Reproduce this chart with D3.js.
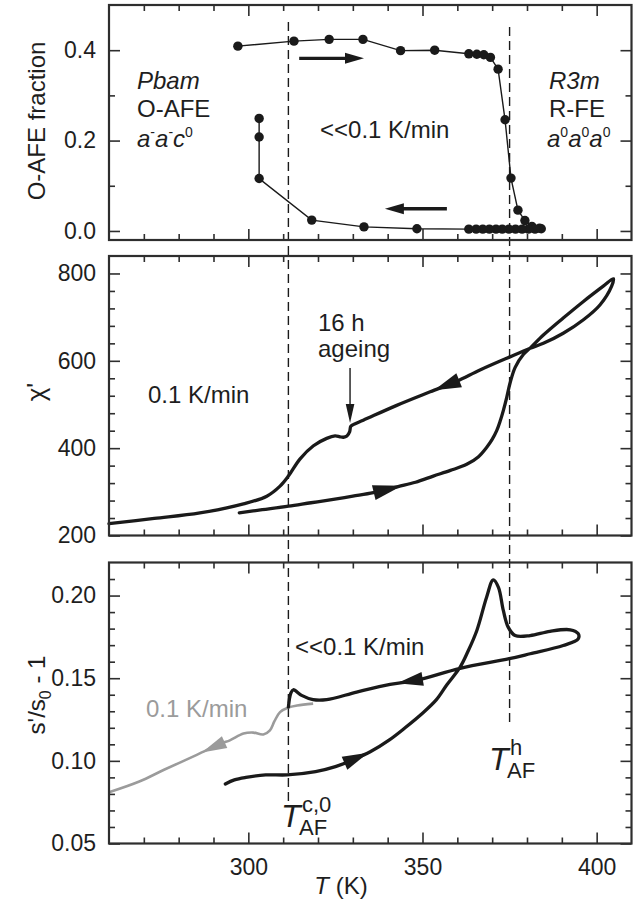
<!DOCTYPE html>
<html><head><meta charset="utf-8">
<script src="https://cdn.jsdelivr.net/npm/d3@7"></script>
<style>
body{margin:0;background:#fff;}
svg text{font-family:Arial,"Liberation Sans",Helvetica,sans-serif;fill:#1e1e1e;}
</style></head><body>
<svg id="fig" width="642" height="900"></svg>
<script>
// ---- shared temperature axis ----
const tempDomain = [260, 410];
const tempMajor = [300, 350, 400];
const tempMinor = [270, 280, 290, 310, 320, 330, 340, 360, 370, 380, 390];
const transitionTemps = [311.5, 375];   // T_AF^{c,0}, T_AF^h

// ---- panel 1: O-AFE phase fraction (heating then cooling) ----
const fracT = [297, 313.1, 323.2, 332.9, 343.7, 353.5, 363.3, 365.6, 367.6, 369.5, 371.7, 373.7, 375.4, 377.4, 379.4, 381.4, 383.6,
               384.1, 382.3, 380.4, 378.6, 376.7, 374.8, 372.9, 371.1, 369.2, 367.3, 365.4, 363.3, 348.4, 333.2, 318.2, 303.1, 303.1, 303.1];
const fracV = [0.409, 0.420, 0.424, 0.424, 0.399, 0.400, 0.392, 0.391, 0.390, 0.384, 0.358, 0.246, 0.117, 0.046, 0.023, 0.010, 0.006,
               0.005, 0.004, 0.004, 0.004, 0.004, 0.004, 0.004, 0.004, 0.004, 0.004, 0.004, 0.004, 0.005, 0.009, 0.024, 0.116, 0.208, 0.249];
const fracTicksMajor = [0.0, 0.2, 0.4];
const fracTicksMinor = [0.1, 0.3];

// ---- panel 2: permittivity chi' at 0.1 K/min ----
const chiHeatT = [297.4, 304, 311.5, 318, 324.4, 330, 335.9, 343, 348, 353.1, 358, 362.7, 366, 368.4, 370, 371.3, 372.3, 373.2, 374.2, 375.1, 376.6, 379, 380.9, 384.7, 390.4, 396.2, 401.9, 404.8];
const chiHeatV = [252, 259, 267, 275, 282.6, 290, 298, 312, 322, 336, 349, 363, 380, 401.6, 420, 440, 462, 486, 517, 548, 585, 615, 629, 659, 698, 736, 771, 788];
const chiCoolT = [404.3, 401, 396.2, 390.4, 384.7, 380.9, 375.1, 366.5, 359.8, 352.2, 342.6, 333, 330.1, 329.4, 329.1, 328.3, 327.3, 326.3, 324.9, 322.5, 318.7, 314.8, 311.5, 309.1, 305.3, 298.6, 286.1, 273, 260];
const chiCoolV = [771, 728.5, 694, 663, 640, 628.6, 609, 579, 553, 529, 498, 464, 454, 450, 438, 428, 425, 426, 428, 422.4, 405.5, 375, 336, 313, 290, 272.4, 251.7, 239, 227];
const chiTicksMajor = [200, 400, 600, 800];
const chiTicksMinor = [240, 280, 320, 360, 440, 480, 520, 560, 640, 680, 720, 760];

// ---- panel 3: sound velocity ratio s'/s0 - 1 ----
const sHeatT = [293.4, 296, 299.3, 305, 311.1, 319.3, 325, 329.9, 335, 340.5, 345, 350, 354, 357, 360.8, 363, 365.6, 368.4, 370.3, 371.8, 373.2, 374.6, 376.6, 380.9, 386.6, 392.4, 394.7, 394.7];
const sHeatV = [0.086, 0.0885, 0.090, 0.0915, 0.0915, 0.0935, 0.0965, 0.1006, 0.1055, 0.1127, 0.120, 0.1288, 0.137, 0.146, 0.1567, 0.166, 0.1789, 0.199, 0.2095, 0.205, 0.191, 0.1809, 0.1758, 0.1758, 0.1784, 0.1793, 0.1769, 0.1738];
const sCoolT = [390.4, 380.9, 374.9, 360.8, 348.3, 340.7, 331.1, 322.5, 318.6, 315.3, 312.9, 312.2, 311.5];
const sCoolV = [0.1698, 0.1648, 0.1618, 0.156, 0.1487, 0.1463, 0.1416, 0.137, 0.137, 0.1396, 0.143, 0.141, 0.1325];
const sFastT = [318.6, 314, 311.5, 309.1, 307.5, 306.2, 304.3, 301.4, 298.6, 294.7, 292.3, 285.2, 275.8, 268.7, 260];
const sFastV = [0.1346, 0.1335, 0.1323, 0.1295, 0.124, 0.1185, 0.116, 0.1171, 0.1165, 0.1124, 0.1107, 0.1036, 0.0946, 0.0875, 0.081];
const sTicksMajor = [0.05, 0.10, 0.15, 0.20];
const sTicksMinor = [0.06, 0.07, 0.08, 0.09, 0.11, 0.12, 0.13, 0.14, 0.16, 0.17, 0.18, 0.19, 0.21];

const INK = "#1a1a1a", GREY = "#9b9b9b", FRAME = "#2e2e2e";
const svg = d3.select("#fig");

const x = d3.scaleLinear().domain(tempDomain).range([109, 631.5]);
const yFrac = d3.scaleLinear().domain([-0.02, 0.5]).range([240, 5]);
const yChi = d3.scaleLinear().domain([200, 840]).range([535.5, 256]);
const yS = d3.scaleLinear().domain([0.05, 0.22]).range([843.5, 562.5]);

const zip = (a, b) => a.map((t, i) => [t, b[i]]);

// vertical dashed markers of the transition temperatures
const dashEnds = [[22, 803], [27, 722]];
svg.append("g").selectAll("line").data(transitionTemps).join("line")
  .attr("x1", d => x(d)).attr("x2", d => x(d))
  .attr("y1", (d, i) => dashEnds[i][0]).attr("y2", (d, i) => dashEnds[i][1])
  .attr("stroke", INK).attr("stroke-width", 1.4).attr("stroke-dasharray", "9,5");

function frameAndTicks(y, major, minor, fmt, xLabels) {
  const g = svg.append("g");
  const [x0, x1] = x.range();
  const [yb, yt] = y.range();
  const style = sel => {
    sel.select(".domain").remove();
    sel.selectAll(".tick line").attr("stroke", FRAME).attr("stroke-width", 1.6);
    sel.selectAll(".tick text").attr("font-size", 23).attr("font-family", null).attr("fill", "#1e1e1e");
    sel.attr("font-family", null).attr("font-size", null);
  };
  // x ticks, bottom and top, pointing inward
  g.append("g").attr("transform", `translate(0,${yb})`)
    .call(d3.axisBottom(x).tickValues(tempMajor).tickSize(-11).tickPadding(15)
      .tickFormat(xLabels ? d3.format("d") : () => "")).call(style);
  g.append("g").attr("transform", `translate(0,${yb})`)
    .call(d3.axisBottom(x).tickValues(tempMinor).tickSize(-6).tickFormat(() => "")).call(style);
  g.append("g").attr("transform", `translate(0,${yt})`)
    .call(d3.axisTop(x).tickValues(tempMajor).tickSize(-11).tickFormat(() => "")).call(style);
  g.append("g").attr("transform", `translate(0,${yt})`)
    .call(d3.axisTop(x).tickValues(tempMinor).tickSize(-6).tickFormat(() => "")).call(style);
  // y ticks, left and right
  g.append("g").attr("transform", `translate(${x0},0)`)
    .call(d3.axisLeft(y).tickValues(major).tickSize(-11).tickPadding(13).tickFormat(fmt)).call(style);
  g.append("g").attr("transform", `translate(${x0},0)`)
    .call(d3.axisLeft(y).tickValues(minor).tickSize(-6).tickFormat(() => "")).call(style);
  g.append("g").attr("transform", `translate(${x1},0)`)
    .call(d3.axisRight(y).tickValues(major).tickSize(-11).tickFormat(() => "")).call(style);
  g.append("g").attr("transform", `translate(${x1},0)`)
    .call(d3.axisRight(y).tickValues(minor).tickSize(-6).tickFormat(() => "")).call(style);
  g.append("rect").attr("x", x0).attr("y", yt).attr("width", x1 - x0).attr("height", yb - yt)
    .attr("fill", "none").attr("stroke", FRAME).attr("stroke-width", 2.2);
}

function head(g, tip, ang, L, W, color) {
  const c = Math.cos(ang), s = Math.sin(ang);
  const bx = tip[0] - L * c, by = tip[1] - L * s;
  g.append("path")
    .attr("d", `M${tip[0]},${tip[1]}L${bx - W * s},${by + W * c}L${bx + W * s},${by - W * c}Z`)
    .attr("fill", color);
}

// arrowhead centred on the n-th crossing of temperature t along a drawn path
function arrowOnPath(g, node, t, n, color, L = 27, W = 7) {
  const tx = x(t), total = node.getTotalLength();
  let prev = node.getPointAtLength(0), count = 0;
  for (let l = 0.5; l <= total; l += 0.5) {
    const p = node.getPointAtLength(l);
    if ((prev.x - tx) * (p.x - tx) <= 0 && prev.x !== p.x) {
      count++;
      if (count === n) {
        const a = node.getPointAtLength(Math.min(total, l + L / 2));
        const b = node.getPointAtLength(Math.max(0, l - L / 2));
        head(g, [a.x, a.y], Math.atan2(a.y - b.y, a.x - b.x), L, W, color);
        return;
      }
    }
    prev = p;
  }
}

// text made of base letters, each followed by a raised index
function withSuperscripts(sel, pairs, italicBase, italicSup) {
  pairs.forEach(([b, s], i) => {
    sel.append("tspan").attr("dy", i === 0 ? 0 : 10).attr("font-style", italicBase ? "italic" : "normal").text(b);
    sel.append("tspan").attr("dy", -10).attr("font-size", 14).attr("font-style", italicSup ? "italic" : "normal").text(s);
  });
}

const smooth = d3.curveCatmullRom.alpha(0.5);

// ================= panel 1 =================
{
  const g = svg.append("g");
  const pts = zip(fracT, fracV);
  g.append("path").attr("d", d3.line().x(d => x(d[0])).y(d => yFrac(d[1]))(pts))
    .attr("fill", "none").attr("stroke", INK).attr("stroke-width", 1.4);
  g.selectAll("circle").data(pts).join("circle")
    .attr("cx", d => x(d[0])).attr("cy", d => yFrac(d[1])).attr("r", 4.7).attr("fill", INK);

  // direction arrows: heating (right) and cooling (left)
  const dirArrows = [{t0: 314.6, t1: 333.2, f: 0.382}, {t0: 357.0, t1: 339.2, f: 0.049}];
  dirArrows.forEach(a => {
    const sgn = Math.sign(a.t1 - a.t0), yy = yFrac(a.f);
    g.append("line").attr("x1", x(a.t0)).attr("x2", x(a.t1) - sgn * 14).attr("y1", yy).attr("y2", yy)
      .attr("stroke", INK).attr("stroke-width", 3.4);
    head(g, [x(a.t1), yy], sgn > 0 ? 0 : Math.PI, 19, 5.5, INK);
  });

  const t = g.append("g").attr("font-size", 24);
  t.append("text").attr("x", 137).attr("y", 89).attr("font-style", "italic").text("Pbam");
  t.append("text").attr("x", 137).attr("y", 117).text("O-AFE");
  withSuperscripts(t.append("text").attr("x", 137).attr("y", 147), [["a", "-"], ["a", "-"], ["c", "0"]], true, false);
  t.append("text").attr("x", 320).attr("y", 138).text("<<0.1 K/min");
  t.append("text").attr("x", 549).attr("y", 89).attr("font-style", "italic").text("R3m");
  t.append("text").attr("x", 549).attr("y", 117).text("R-FE");
  withSuperscripts(t.append("text").attr("x", 547).attr("y", 147), [["a", "0"], ["a", "0"], ["a", "0"]], true, false);

  svg.append("text").attr("transform", "translate(45,121) rotate(-90)").attr("text-anchor", "middle")
    .attr("font-size", 24).text("O-AFE fraction");
  frameAndTicks(yFrac, fracTicksMajor, fracTicksMinor, d3.format(".1f"), false);
}

// ================= panel 2 =================
{
  const g = svg.append("g");
  const line = d3.line().x(d => x(d[0])).y(d => yChi(d[1])).curve(smooth);
  const loop = zip(chiHeatT, chiHeatV).concat(zip(chiCoolT, chiCoolV));
  const p = g.append("path").attr("d", line(loop)).attr("fill", "none").attr("stroke", INK)
    .attr("stroke-width", 3.3).attr("stroke-linejoin", "round").attr("stroke-linecap", "round");
  arrowOnPath(g, p.node(), 340, 1, INK, 29, 7.5);
  arrowOnPath(g, p.node(), 357, 2, INK, 27, 7.5);

  const t = g.append("g").attr("font-size", 24);
  t.append("text").attr("x", 148).attr("y", 403).text("0.1 K/min");
  t.append("text").attr("x", 318).attr("y", 331).text("16 h");
  t.append("text").attr("x", 318).attr("y", 357).text("ageing");
  // ageing marker
  const agingT = 329.2;
  g.append("line").attr("x1", x(agingT)).attr("x2", x(agingT)).attr("y1", 368).attr("y2", 405)
    .attr("stroke", INK).attr("stroke-width", 1.4);
  head(g, [x(agingT), 423], Math.PI / 2, 19, 4.3, INK);

  svg.append("text").attr("transform", "translate(45,392) rotate(-90)").attr("text-anchor", "middle")
    .attr("font-size", 26).text("\u03c7'");
  frameAndTicks(yChi, chiTicksMajor, chiTicksMinor, d3.format("d"), false);
}

// ================= panel 3 =================
{
  const g = svg.append("g");
  const line = d3.line().x(d => x(d[0])).y(d => yS(d[1])).curve(smooth);
  const pg = g.append("path").attr("d", line(zip(sFastT, sFastV))).attr("fill", "none")
    .attr("stroke", GREY).attr("stroke-width", 2.6).attr("stroke-linejoin", "round");
  arrowOnPath(g, pg.node(), 289.9, 1, GREY, 25, 6.5);
  const loop = zip(sHeatT, sHeatV).concat(zip(sCoolT, sCoolV));
  const pb = g.append("path").attr("d", line(loop)).attr("fill", "none").attr("stroke", INK)
    .attr("stroke-width", 3.3).attr("stroke-linejoin", "round").attr("stroke-linecap", "round");
  arrowOnPath(g, pb.node(), 331, 1, INK, 26, 7);
  arrowOnPath(g, pb.node(), 346.4, 2, INK, 26, 7);

  const t = g.append("g").attr("font-size", 24);
  t.append("text").attr("x", 295).attr("y", 655).text("<<0.1 K/min");
  t.append("text").attr("x", 146).attr("y", 717).style("fill", GREY).text("0.1 K/min");

  // transition temperature labels: T with superscript above and "AF" subscript below
  const lab = (tx, ty, sup) => {
    const tt = t.append("text").attr("x", tx).attr("y", ty);
    tt.append("tspan").attr("font-size", 32).attr("font-style", "italic").text("T");
    const wT = 21;
    t.append("text").attr("x", tx + wT).attr("y", ty - 15).attr("font-size", 22).text(sup);
    t.append("text").attr("x", tx + wT - 3).attr("y", ty + 8).attr("font-size", 22).text("AF");
  };
  lab(489, 770, "h");
  lab(281, 827, "c,0");

  const yl = svg.append("text").attr("transform", "translate(45,695) rotate(-90)").attr("text-anchor", "middle")
    .attr("font-size", 24);
  yl.append("tspan").text("s'/s");
  yl.append("tspan").attr("dy", 6).attr("font-size", 16).text("0");
  yl.append("tspan").attr("dy", -6).text(" - 1");

  const xl = svg.append("text").attr("x", 341).attr("y", 894).attr("text-anchor", "middle").attr("font-size", 24);
  xl.append("tspan").attr("font-style", "italic").text("T");
  xl.append("tspan").text(" (K)");
  frameAndTicks(yS, sTicksMajor, sTicksMinor, d3.format(".2f"), true);
}
</script>
</body></html>
